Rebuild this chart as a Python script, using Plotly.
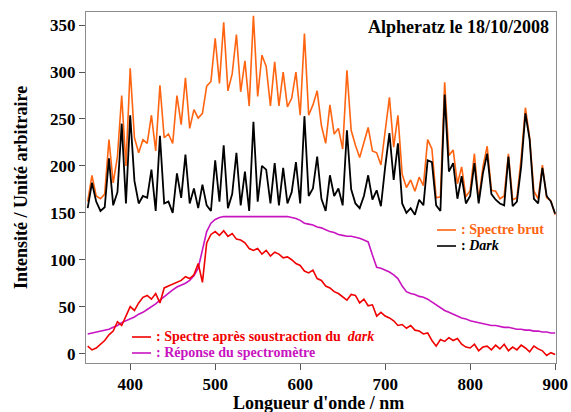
import plotly.graph_objects as go

wavelength = list(range(350, 901, 5))

dark = [155, 182, 162, 152, 156, 208, 158, 172, 245, 160,
        254, 184, 160, 168, 166, 196, 152, 232, 160, 162,
        150, 192, 166, 212, 160, 176, 155, 180, 158, 152,
        206, 162, 222, 155, 170, 214, 158, 194, 152, 247,
        162, 200, 196, 160, 203, 158, 198, 160, 172, 204,
        160, 253, 168, 176, 210, 165, 152, 190, 168, 176,
        158, 238, 175, 160, 155, 168, 190, 164, 174, 157,
        199, 235, 185, 224, 160, 150, 155, 148, 164, 158,
        206, 204, 158, 152, 276, 194, 203, 165, 189, 160,
        168, 203, 160, 192, 213, 170, 164, 160, 158, 210,
        157, 162, 199, 256, 228, 165, 160, 198, 168, 162,
        149]

raw = [162, 190, 168, 165, 170, 228, 182, 210, 275, 200,
       304, 230, 214, 228, 224, 254, 216, 286, 230, 234,
       224, 275, 244, 294, 240, 260, 251, 256, 285, 290,
       336, 288, 353, 280, 298, 340, 279, 312, 264, 360,
       274, 318, 306, 264, 311, 264, 300, 263, 272, 300,
       254, 341, 254, 265, 280, 243, 224, 265, 234, 240,
       218, 302, 238, 222, 209, 226, 241, 216, 214, 201,
       239, 273, 220, 254, 191, 177, 185, 173, 188, 179,
       228, 218, 166, 167, 289, 211, 217, 181, 199, 167,
       174, 213, 163, 199, 221, 174, 173, 165, 168, 213,
       164, 166, 208, 262, 230, 173, 165, 201, 166, 163,
       148]

corrected = [8, 4, 6, 10, 14, 20, 24, 34, 30, 40,
             50, 46, 54, 60, 62, 58, 64, 54, 70, 72,
             74, 76, 78, 82, 80, 84, 96, 76, 118, 127,
             130, 126, 131, 125, 128, 122, 121, 118, 112, 110,
             112, 106, 110, 104, 108, 106, 102, 103, 100, 96,
             94, 88, 86, 89, 80, 78, 72, 70, 66, 64,
             60, 57, 63, 62, 54, 58, 51, 52, 40, 44,
             40, 38, 35, 30, 31, 27, 30, 25, 24, 21,
             22, 14, 8, 15, 13, 17, 14, 16, 10, 7,
             6, 10, 3, 7, 8, 4, 9, 5, 10, 3,
             7, 4, 9, 6, 2, 8, 5, 3, -2, 1,
             -1]

response = [21, 22, 23, 24, 25, 26, 28, 30, 33, 35,
            37, 39, 42, 44, 47, 50, 53, 57, 61, 65,
            68, 71, 73, 75, 78, 83, 91, 110, 130, 139,
            143, 145, 146, 146, 146, 146, 146, 146, 146, 146,
            146, 146, 146, 146, 146, 146, 146, 146, 145, 144,
            142, 139, 138, 137, 135, 134, 132, 130, 129, 127,
            126, 125, 125, 124, 123, 121, 119, 105, 92, 91,
            89, 87, 84, 80, 72, 66, 64, 63, 61, 60,
            58, 55, 52, 49, 46, 44, 42, 40, 38, 37,
            35, 34, 33, 32, 31, 30, 30, 29, 28, 28,
            27, 26, 26, 25, 25, 24, 24, 23, 23, 22,
            22]

FONT = "Times New Roman, Liberation Serif, DejaVu Serif, serif"
C_RAW = "#FF6410"
C_DARK = "#000000"
C_COR = "#F00000"
C_RESP = "#C814C0"

fig = go.Figure()
fig.add_trace(go.Scatter(x=wavelength, y=raw, mode="lines",
                         line=dict(color=C_RAW, width=1.6), name="Spectre brut"))
fig.add_trace(go.Scatter(x=wavelength, y=dark, mode="lines",
                         line=dict(color=C_DARK, width=1.8), name="Dark"))
fig.add_trace(go.Scatter(x=wavelength, y=response, mode="lines",
                         line=dict(color=C_RESP, width=1.6), name="Réponse"))
fig.add_trace(go.Scatter(x=wavelength, y=corrected, mode="lines",
                         line=dict(color=C_COR, width=1.6), name="Spectre corrigé"))

axis_common = dict(
    showline=True, linecolor="#8c8c8c", linewidth=1, mirror=True,
    ticks="outside", ticklen=6, tickcolor="#555555", tickwidth=1,
    showgrid=False, zeroline=False, automargin=False,
    tickfont=dict(family=FONT, size=17, color="black", weight="bold"),
)

fig.update_xaxes(range=[348, 901], tickvals=[400, 500, 600, 700, 800, 900], **axis_common)
fig.update_yaxes(range=[-10, 364], tickvals=[0, 50, 100, 150, 200, 250, 300, 350], **axis_common)


def px_x(p):
    return (p - 86) / 470.0


def px_y(p):
    return (363 - p) / 351.0


ann = []
ann.append(dict(text="<b>Alpheratz le 18/10/2008</b>", x=px_x(551), y=px_y(27), xref="paper", yref="paper",
                xanchor="right", yanchor="middle", showarrow=False,
                font=dict(family=FONT, size=18, color="black")))
ann.append(dict(text="<b>Longueur d'onde / nm</b>", x=px_x(318), y=px_y(403), xref="paper", yref="paper",
                xanchor="center", yanchor="middle", showarrow=False,
                font=dict(family=FONT, size=18, color="black")))
ann.append(dict(text="<b>Intensité / Unité arbitraire</b>", x=px_x(21), y=px_y(188), xref="paper", yref="paper",
                xanchor="center", yanchor="middle", showarrow=False, textangle=-90,
                font=dict(family=FONT, size=18, color="black")))

legend_items = [
    ("<b>: Spectre brut</b>", C_RAW, 437, 229),
    ("<b>: <i>Dark</i></b>", C_DARK, 437, 245),
    ("<b>: Spectre après soustraction du  <i>dark</i></b>", C_COR, 132, 336),
    ("<b>: Réponse du spectromètre</b>", C_RESP, 132, 352),
]
shapes = []
for text, col, x0, yc in legend_items:
    shapes.append(dict(type="line", xref="paper", yref="paper",
                       x0=px_x(x0), x1=px_x(x0 + 19), y0=px_y(yc + 1), y1=px_y(yc + 1),
                       line=dict(color=col, width=1.6)))
    ann.append(dict(text=text, x=px_x(x0 + 22), y=px_y(yc), xref="paper", yref="paper",
                    xanchor="left", yanchor="middle", showarrow=False,
                    font=dict(family=FONT, size=14, color=col)))

fig.update_layout(
    width=571, height=412,
    margin=dict(l=86, r=15, t=12, b=49),
    paper_bgcolor="white", plot_bgcolor="white",
    showlegend=False,
    annotations=ann,
    shapes=shapes,
)

fig.write_html("out.html", config={"displayModeBar": False},
               post_script="document.body.style.margin='0';document.body.style.padding='0';")
